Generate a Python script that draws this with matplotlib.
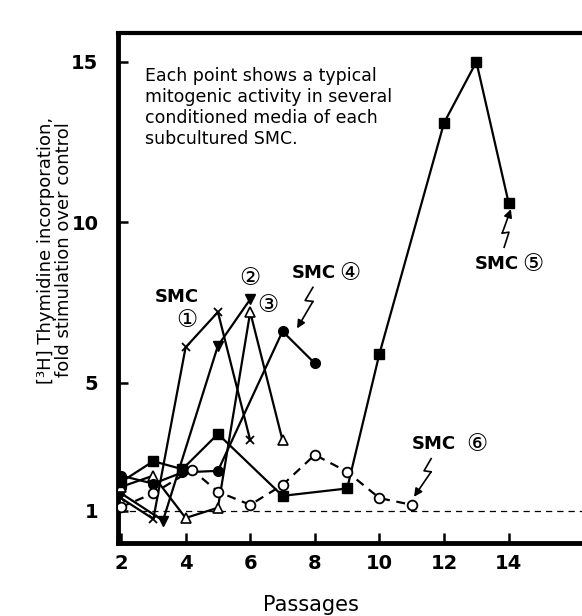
import matplotlib
matplotlib.use("Agg")
import matplotlib.pyplot as plt

plt.rcParams['font.family'] = ['DejaVu Sans', 'Noto Sans CJK JP']

# ---- data (passages vs fold stimulation) ----
smc1_x = [2, 3, 4, 5, 6]
smc1_y = [1.4, 0.75, 6.1, 7.2, 3.2]

smc2_x = [2, 3.3, 5, 6]
smc2_y = [1.55, 0.7, 6.15, 7.6]

smc3_x = [2, 3, 4, 5, 6, 7]
smc3_y = [1.75, 2.1, 0.78, 1.1, 7.2, 3.2]

smc4_x = [2, 3, 3.9, 5, 7, 8]
smc4_y = [2.1, 1.85, 2.2, 2.25, 6.6, 5.6]

smc5_x = [2, 3, 3.9, 5, 7, 9, 10, 12, 13, 14]
smc5_y = [1.9, 2.55, 2.3, 3.4, 1.47, 1.7, 5.9, 13.1, 15.0, 10.6]

smc6_x = [2, 3, 4.2, 5, 6, 7, 8, 9, 10, 11]
smc6_y = [1.12, 1.55, 2.28, 1.6, 1.19, 1.81, 2.75, 2.22, 1.4, 1.19]

xticks = [2, 4, 6, 8, 10, 12, 14]
yticks = [1, 5, 10, 15]

fig = plt.figure(figsize=(5.82, 6.16), dpi=100)
ax = fig.add_axes([118/582, 73/616, 464/582, 510/616])
ax.set_xlim(1.907, 16.27)
ax.set_ylim(0, 15.9)

lw = 1.6
ms = 7
ax.axhline(1, color='black', lw=0.9, ls=(0, (5, 4)), zorder=1)
ax.plot(smc1_x, smc1_y, color='black', lw=lw, marker='x', ms=6, mew=1.3, zorder=3)
ax.plot(smc2_x, smc2_y, color='black', lw=lw, marker='v', ms=ms, mfc='black', zorder=3)
ax.plot(smc3_x, smc3_y, color='black', lw=lw, marker='^', ms=ms, mfc='white', mew=1.2, zorder=3)
ax.plot(smc4_x, smc4_y, color='black', lw=lw, marker='o', ms=ms, mfc='black', zorder=3)
ax.plot(smc5_x, smc5_y, color='black', lw=lw, marker='s', ms=6.5, mfc='black', zorder=3)
ax.plot(smc6_x, smc6_y, color='black', lw=lw, ls=(0, (4, 3)), marker='o', ms=ms,
        mfc='white', mew=1.3, zorder=4)

# spines and ticks
for s in ['left', 'bottom']:
    ax.spines[s].set_linewidth(3.5)
ax.spines['top'].set_linewidth(3)
ax.spines['right'].set_visible(False)
ax.set_xticks(xticks)
ax.set_yticks(yticks)
ax.tick_params(direction='in', length=7, width=1.8)
ax.tick_params(axis='y', pad=14)
ax.tick_params(axis='x', pad=8)
tickfont = dict(weight='bold', size=14)
ax.set_xticklabels([str(v) for v in xticks], **tickfont)
ax.set_yticklabels([str(v) for v in yticks], **tickfont)

fig.text(311/582, 1 - 605/616, 'Passages', fontsize=15, ha='center', va='center')
fig.text(55/582, 1 - 250/616, '[³H] Thymidine incorporation,\nfold stimulation over control',
         rotation=90, ha='center', va='center', fontsize=13, linespacing=1.0)

# note text
ax.text(2.74, 14.85, 'Each point shows a typical\nmitogenic activity in several\n'
        'conditioned media of each\nsubcultured SMC.', ha='left', va='top',
        fontsize=12.5, linespacing=1.22)

circ = dict(fontsize=17, ha='center', va='center')
smc = dict(fontsize=13, weight='bold', ha='center', va='center')
ax.text(3.73, 7.66, 'SMC', **smc)
ax.text(4.04, 6.94, '①', **circ)
ax.text(5.99, 8.25, '②', **circ)
ax.text(6.55, 7.41, '③', **circ)
ax.text(7.96, 8.41, 'SMC', **smc)
ax.text(9.09, 8.41, '④', **circ)
ax.text(13.64, 8.69, 'SMC', **smc)
ax.text(14.76, 8.69, '⑤', **circ)
ax.text(11.69, 3.09, 'SMC', **smc)
ax.text(13.02, 3.09, '⑥', **circ)

def bolt(pts):
    xs = [p[0] for p in pts[:-1]]
    ys = [p[1] for p in pts[:-1]]
    ax.plot(xs, ys, color='black', lw=1.2, zorder=5)
    ax.annotate('', xy=pts[-1], xytext=pts[-2],
                arrowprops=dict(arrowstyle='-|>', color='black', lw=1.2,
                                mutation_scale=12, shrinkA=0, shrinkB=0), zorder=5)

bolt([(7.94, 7.97), (7.70, 7.56), (7.94, 7.53), (7.45, 6.69)])
bolt([(13.86, 9.22), (14.01, 9.69), (13.80, 9.66), (14.07, 10.41)])
bolt([(11.60, 2.63), (11.38, 2.25), (11.60, 2.22), (11.07, 1.44)])

fig.savefig('out.png', dpi=100)
